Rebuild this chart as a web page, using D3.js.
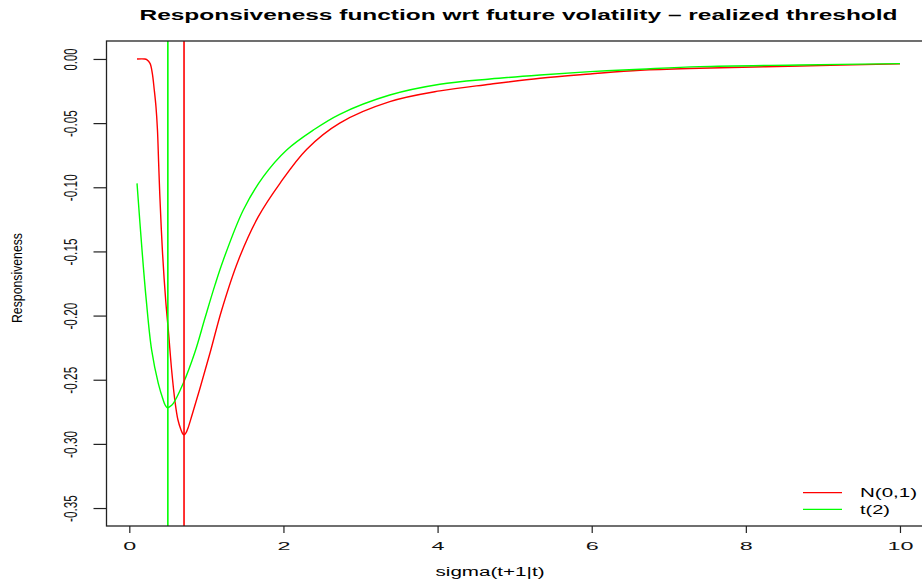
<!DOCTYPE html>
<html>
<head>
<meta charset="utf-8">
<script src="https://cdn.jsdelivr.net/npm/d3@7"></script>
<style>
  body { margin: 0; background: #fff; }
  text { font-family: "Liberation Sans", Arial, sans-serif; }
</style>
</head>
<body>
<script>
// values
var sigmaNorm = [0.10, 0.20, 0.226, 0.269, 0.298, 0.324, 0.346, 0.365, 0.38, 0.395, 0.43, 0.472, 0.51, 0.55, 0.593, 0.63, 0.67, 0.69, 0.71, 0.735, 0.762, 0.814, 0.918, 1.047, 1.199, 1.414, 1.674, 1.955, 2.30, 2.73, 3.38, 4.03, 4.68, 5.33, 5.98, 6.63, 7.40, 8.70, 10.0];
var respNorm  = [0.000, 0.000, -0.0005, -0.0034, -0.0111, -0.0242, -0.0372, -0.055, -0.080, -0.105, -0.150, -0.188, -0.214, -0.243, -0.267, -0.281, -0.289, -0.2918, -0.293, -0.2915, -0.2876, -0.2775, -0.2564, -0.2292, -0.1956, -0.157, -0.1229, -0.0969, -0.0705, -0.050, -0.0333, -0.0249, -0.0197, -0.0150, -0.0117, -0.0088, -0.0072, -0.0055, -0.0038];

var sigmaT = [0.10, 0.165, 0.22, 0.29, 0.376, 0.44, 0.465, 0.493, 0.525, 0.571, 0.70, 0.852, 0.982, 1.112, 1.22, 1.479, 1.739, 2.042, 2.39, 2.73, 3.38, 4.03, 4.68, 5.33, 5.98, 6.63, 7.40, 8.70, 10.0];
var respT  = [-0.097, -0.149, -0.188, -0.227, -0.2528, -0.2658, -0.2697, -0.2718, -0.2710, -0.2684, -0.2528, -0.2284, -0.2019, -0.1761, -0.1567, -0.1177, -0.0917, -0.0709, -0.0553, -0.0431, -0.0281, -0.0197, -0.0156, -0.0125, -0.0099, -0.0080, -0.0060, -0.0047, -0.0036];

// vertical threshold lines
var thresholds = [0.71, 0.50];
var seriesNames = ["N(0,1)", "t(2)"];
var seriesColors = ["#ff0000", "#00ff00"];

var xTicks = [0, 2, 4, 6, 8, 10];
var yTicks = [0.00, -0.05, -0.10, -0.15, -0.20, -0.25, -0.30, -0.35];

var width = 922, height = 587;
var plotLeft = 106.5, plotRight = 930.5, plotTop = 41, plotBottom = 526;

var svg = d3.select('body').append('svg')
  .attr('width', width).attr('height', height);

var x = d3.scaleLinear().domain([-0.296, 10.396]).range([plotLeft, plotRight]);
var y = d3.scaleLinear().domain([-0.364, 0.014]).range([plotBottom, plotTop]);

svg.append('clipPath').attr('id', 'plotclip')
  .append('rect').attr('x', plotLeft).attr('y', plotTop)
  .attr('width', plotRight - plotLeft).attr('height', plotBottom - plotTop);

var plot = svg.append('g').attr('clip-path', 'url(#plotclip)');

var line = d3.line()
  .x(function (d) { return x(d[0]); })
  .y(function (d) { return y(d[1]); })
  .curve(d3.curveCatmullRom.alpha(0.5));

var series = [d3.zip(sigmaNorm, respNorm), d3.zip(sigmaT, respT)];

series.forEach(function (s, i) {
  plot.append('path')
    .datum(s)
    .attr('d', line)
    .attr('fill', 'none')
    .attr('stroke', seriesColors[i])
    .attr('stroke-width', 1.4);
});

thresholds.forEach(function (t, i) {
  plot.append('line')
    .attr('x1', x(t)).attr('x2', x(t))
    .attr('y1', plotTop).attr('y2', plotBottom)
    .attr('stroke', seriesColors[i])
    .attr('stroke-width', 1.6);
});

// box
svg.append('rect')
  .attr('x', plotLeft).attr('y', plotTop)
  .attr('width', plotRight - plotLeft).attr('height', plotBottom - plotTop)
  .attr('fill', 'none').attr('stroke', '#222').attr('stroke-width', 1.3);

// x axis
var xAxis = svg.append('g').attr('transform', 'translate(0,' + plotBottom + ')')
  .call(d3.axisBottom(x).tickValues(xTicks).tickSize(7).tickFormat(d3.format('d')));
xAxis.select('.domain').remove();
xAxis.selectAll('line').attr('stroke', '#222').attr('stroke-width', 1.2);
xAxis.selectAll('text')
  .attr('y', 24).attr('dy', null)
  .attr('font-size', 11).attr('fill', '#111')
  .attr('textLength', function (d) { return String(d).length * 13; })
  .attr('lengthAdjust', 'spacingAndGlyphs');

// y axis
var yAxis = svg.append('g').attr('transform', 'translate(' + plotLeft + ',0)')
  .call(d3.axisLeft(y).tickValues(yTicks).tickSize(13).tickFormat(d3.format('.2f')));
yAxis.select('.domain').remove();
yAxis.selectAll('line').attr('stroke', '#222').attr('stroke-width', 1.2);
yAxis.selectAll('text')
  .attr('x', null).attr('dy', null)
  .attr('text-anchor', 'middle')
  .attr('transform', 'translate(-30,0) rotate(-90)')
  .attr('font-size', 19).attr('fill', '#111')
  .text(function (d) { return d3.format('.2f')(d).replace('\u2212', '-'); })
  .attr('textLength', function (d) { return d === 0 ? 22 : 27; })
  .attr('lengthAdjust', 'spacingAndGlyphs');

// title and axis labels
svg.append('text')
  .attr('x', (plotLeft + plotRight) / 2).attr('y', 20)
  .attr('text-anchor', 'middle')
  .attr('font-size', 14).attr('font-weight', 'bold')
  .attr('textLength', 758).attr('lengthAdjust', 'spacingAndGlyphs')
  .text('Responsiveness function wrt future volatility \u2013 realized threshold');

svg.append('text')
  .attr('x', 490).attr('y', 576)
  .attr('text-anchor', 'middle')
  .attr('font-size', 12)
  .attr('textLength', 109).attr('lengthAdjust', 'spacingAndGlyphs')
  .text('sigma(t+1|t)');

svg.append('text')
  .attr('transform', 'translate(22,278) rotate(-90)')
  .attr('text-anchor', 'middle')
  .attr('font-size', 14)
  .attr('textLength', 90).attr('lengthAdjust', 'spacingAndGlyphs')
  .text('Responsiveness');

// legend
var legend = svg.append('g');
seriesNames.forEach(function (name, i) {
  var ly = 492.7 + i * 16.6;
  legend.append('line')
    .attr('x1', 803).attr('x2', 842)
    .attr('y1', ly).attr('y2', ly)
    .attr('stroke', seriesColors[i]).attr('stroke-width', 1.2);
  legend.append('text')
    .attr('x', 860).attr('y', ly + 4.6)
    .attr('font-size', 12.5)
    .attr('textLength', name.length > 4 ? 57 : 30)
    .attr('lengthAdjust', 'spacingAndGlyphs')
    .text(name);
});
</script>
</body>
</html>
